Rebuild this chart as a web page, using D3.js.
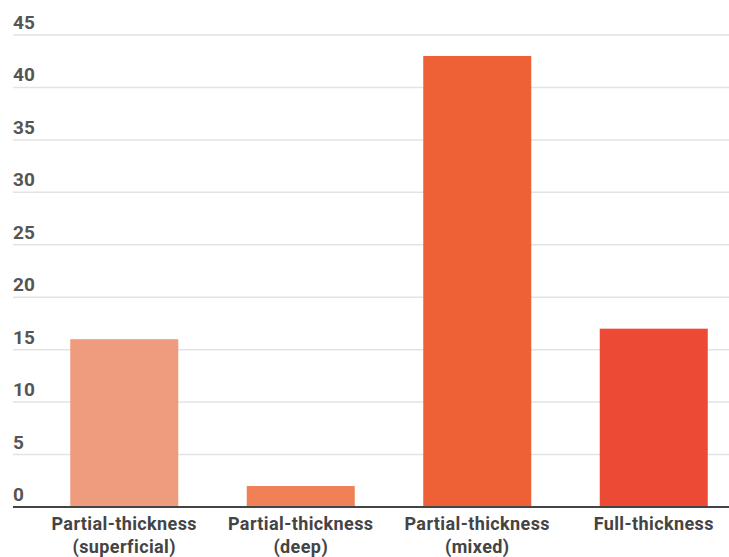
<!DOCTYPE html>
<html>
<head>
<meta charset="utf-8">
<script src="https://cdn.jsdelivr.net/npm/d3@7"></script>
<style>
  body { margin: 0; background: #fff; }
  svg { display: block; font-family: Roboto, sans-serif; }
</style>
</head>
<body>
<svg id="chart" width="729" height="557"></svg>
<script>
// burn depth categories and counts
var categories = [
  ["Partial-thickness", "(superficial)"],
  ["Partial-thickness", "(deep)"],
  ["Partial-thickness", "(mixed)"],
  ["Full-thickness"]
];
var values = [16, 2, 43, 17];
var barColors = ["#ef9b7e", "#f08055", "#ee6036", "#ec4a34"];
var yTicks = [0, 5, 10, 15, 20, 25, 30, 35, 40, 45];

var svg = d3.select("#chart");
var plotLeft = 13, plotRight = 729, plotTop = 35, plotBottom = 507;

var x = d3.scaleBand()
  .domain(d3.range(categories.length))
  .range([36, 742])
  .paddingInner(0.388)
  .paddingOuter(0.194);

var y = d3.scaleLinear()
  .domain([0, 45])
  .range([plotBottom, plotTop]);

// gridlines + tick labels
var grid = svg.append("g");
grid.selectAll("line")
  .data(yTicks.filter(function(d){ return d > 0; }))
  .enter().append("line")
  .attr("x1", plotLeft)
  .attr("x2", plotRight)
  .attr("y1", function(d){ return y(d); })
  .attr("y2", function(d){ return y(d); })
  .attr("stroke", "#e3e3e3")
  .attr("stroke-width", 1.5);

grid.selectAll("text")
  .data(yTicks)
  .enter().append("text")
  .attr("x", plotLeft)
  .attr("y", function(d){ return y(d) - 6; })
  .attr("fill", "#555")
  .attr("font-size", 19)
  .attr("font-weight", "bold")
  .text(function(d){ return d; });

// bars
svg.append("g").selectAll("rect")
  .data(values)
  .enter().append("rect")
  .attr("x", function(d, i){ return x(i); })
  .attr("width", x.bandwidth())
  .attr("y", function(d){ return y(d); })
  .attr("height", function(d){ return y(0) - y(d); })
  .attr("fill", function(d, i){ return barColors[i]; });

// baseline
svg.append("line")
  .attr("x1", plotLeft)
  .attr("x2", plotRight)
  .attr("y1", y(0))
  .attr("y2", y(0))
  .attr("stroke", "#444")
  .attr("stroke-width", 2);

// category labels
var labels = svg.append("g").selectAll("text")
  .data(categories)
  .enter().append("text")
  .attr("x", function(d, i){ return x(i) + x.bandwidth() / 2; })
  .attr("y", 530)
  .attr("text-anchor", "middle")
  .attr("fill", "#444")
  .attr("font-size", 18)
  .attr("letter-spacing", 0.4)
  .attr("font-weight", "bold");

labels.selectAll("tspan")
  .data(function(d){ return d; })
  .enter().append("tspan")
  .attr("x", function(){ return d3.select(this.parentNode).attr("x"); })
  .attr("dy", function(d, i){ return i === 0 ? 0 : 23; })
  .text(function(d){ return d; });
</script>
</body>
</html>
